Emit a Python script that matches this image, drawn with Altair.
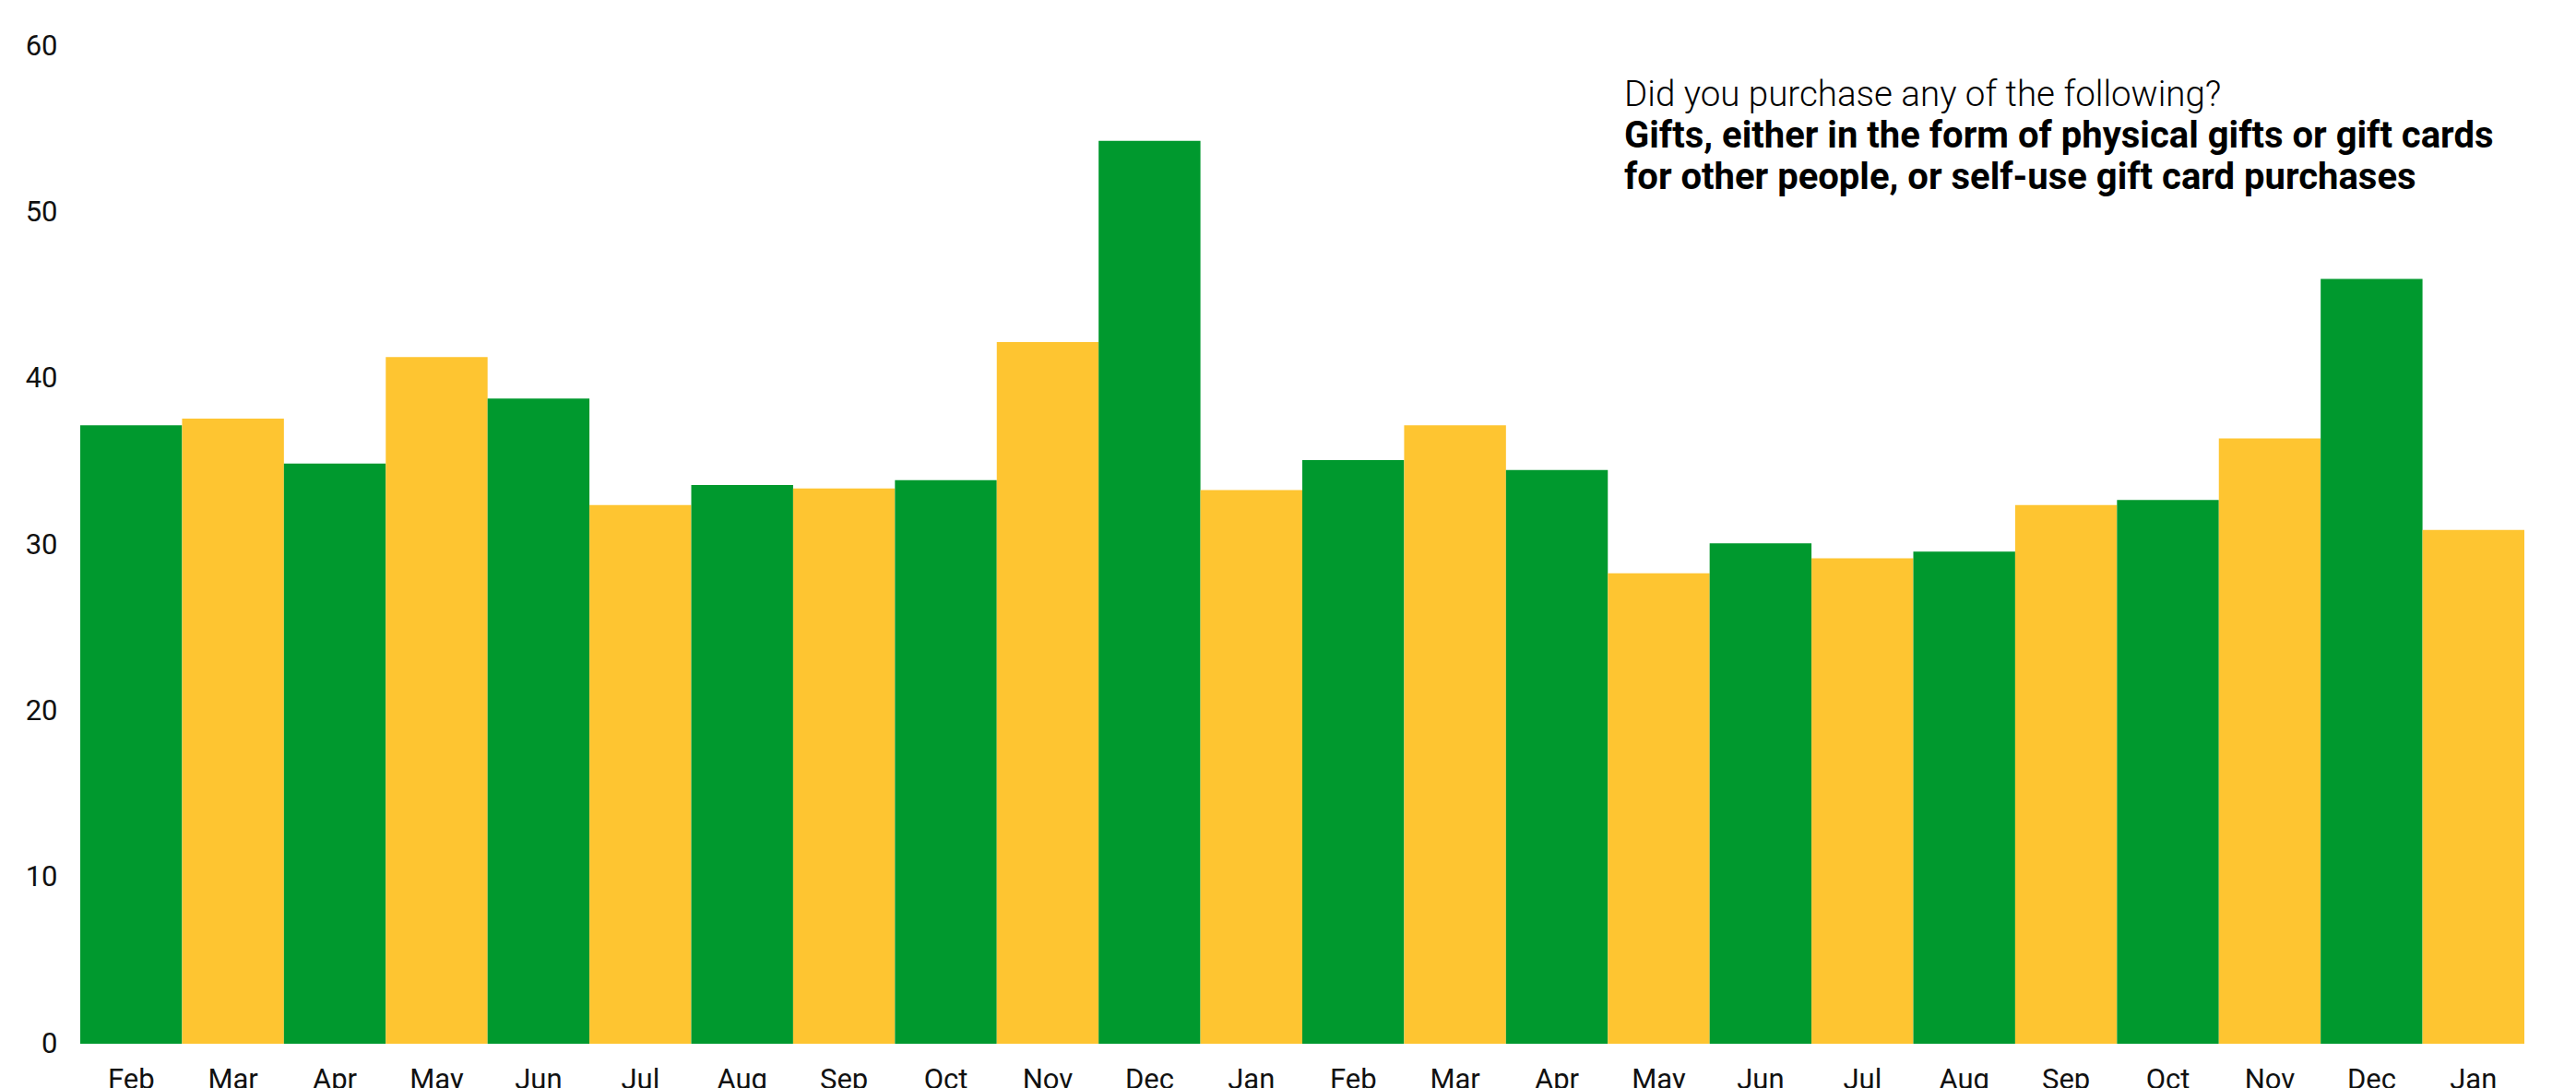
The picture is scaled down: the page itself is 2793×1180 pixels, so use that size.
import altair as alt
import pandas as pd

months = ["Feb", "Mar", "Apr", "May", "Jun", "Jul", "Aug", "Sep", "Oct", "Nov", "Dec", "Jan",
          "Feb", "Mar", "Apr", "May", "Jun", "Jul", "Aug", "Sep", "Oct", "Nov", "Dec", "Jan"]
values = [37.2, 37.6, 34.9, 41.3, 38.8, 32.4, 33.6, 33.4, 33.9, 42.2, 54.3, 33.3,
          35.1, 37.2, 34.5, 28.3, 30.1, 29.2, 29.6, 32.4, 32.7, 36.4, 46.0, 30.9]
groups = ["A", "B"] * 12
y_ticks = [0, 10, 20, 30, 40, 50, 60]

question = "Did you purchase any of the following?"
subject_lines = ["Gifts, either in the form of physical gifts or gift cards",
                 "for other people, or self-use gift card purchases"]

df = pd.DataFrame({
    "key": [f"{i:02d}|{m}" for i, m in enumerate(months)],
    "value": values,
    "group": groups,
})

FONT = "Roboto"

bars = alt.Chart(df).mark_bar(strokeWidth=0).encode(
    x=alt.X("key:N", sort=None, title=None,
            scale=alt.Scale(paddingInner=0, paddingOuter=0),
            axis=alt.Axis(labelExpr="split(datum.value, '|')[1]", labelAngle=0,
                          ticks=False, domain=False, labelPadding=24,
                          labelFontSize=31, labelFont=FONT, labelColor="#111111")),
    y=alt.Y("value:Q", title=None,
            scale=alt.Scale(domain=[0, 60], nice=False),
            axis=alt.Axis(values=y_ticks, ticks=False, domain=False, grid=False,
                          labelPadding=25, labelFontSize=31, labelFont=FONT,
                          labelColor="#111111")),
    color=alt.Color("group:N", legend=None,
                    scale=alt.Scale(domain=["A", "B"], range=["#00992E", "#FEC531"])),
)

q_text = alt.Chart(pd.DataFrame({"t": [question]})).mark_text(
    align="left", baseline="middle", fontSize=38.5, font=FONT, fontWeight=300, color="#000000"
).encode(text="t:N", x=alt.value(1674), y=alt.value(53))

s_text = alt.Chart(pd.DataFrame({"t": [subject_lines]})).mark_text(
    align="left", baseline="middle", fontSize=40, font=FONT, fontWeight="bold",
    color="#000000", lineHeight=45
).encode(text="t:N", x=alt.value(1674), y=alt.value(98))

chart = alt.layer(bars, q_text, s_text).properties(
    width=2650, height=1082,
    background="white",
    autosize=alt.AutoSizeParams(type="none"),
    padding={"left": 87, "top": 50, "right": 56, "bottom": 48},
).configure_view(strokeWidth=0, stroke=None)

chart.save("out.html", embed_options={"renderer": "svg", "actions": False})
